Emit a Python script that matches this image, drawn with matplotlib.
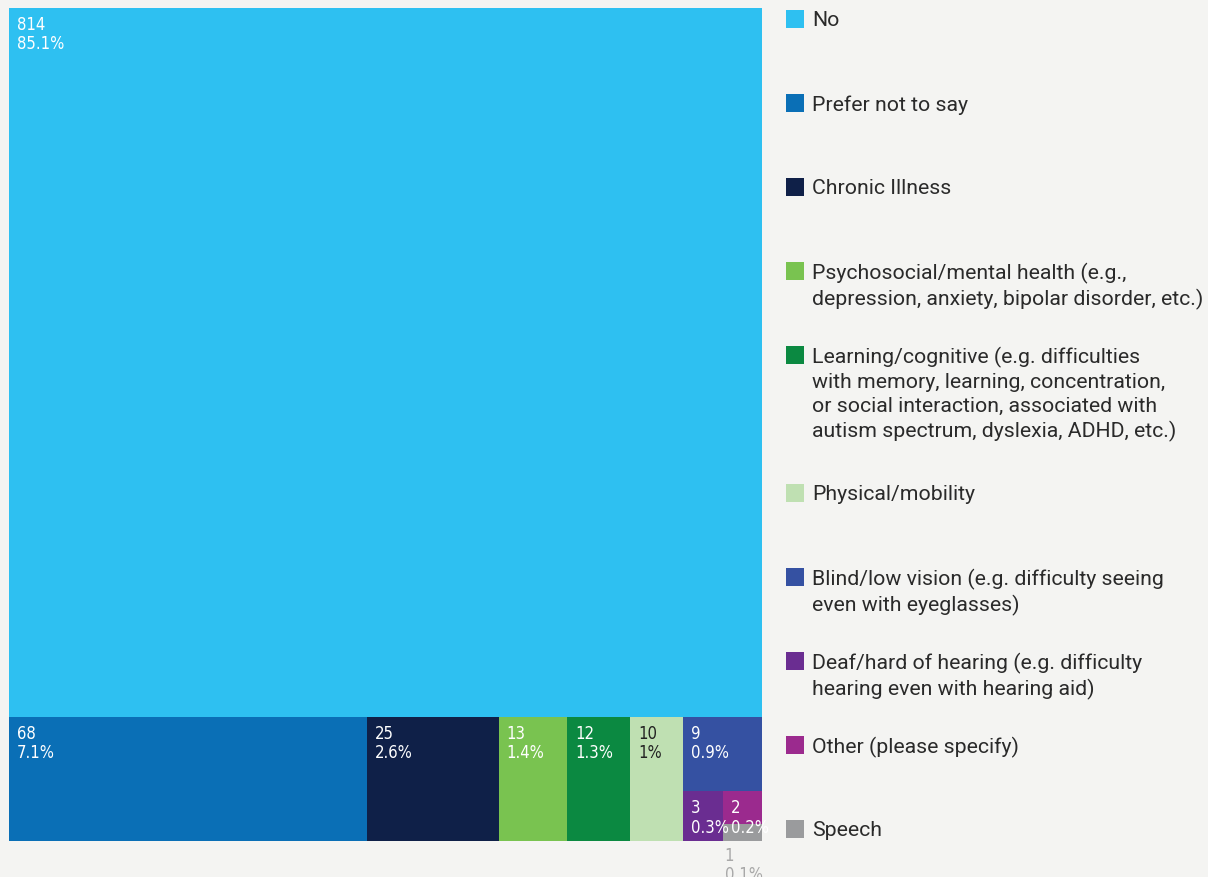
import matplotlib.pyplot as plt
from matplotlib.patches import Rectangle

# survey answers, counts per category
categories = ['No', 'Prefer not to say', 'Chronic Illness',
              'Psychosocial/mental health (e.g.,\ndepression, anxiety, bipolar disorder, etc.)',
              'Learning/cognitive (e.g. difficulties\nwith memory, learning, concentration,\nor social interaction, associated with\nautism spectrum, dyslexia, ADHD, etc.)',
              'Physical/mobility',
              'Blind/low vision (e.g. difficulty seeing\neven with eyeglasses)',
              'Deaf/hard of hearing (e.g. difficulty\nhearing even with hearing aid)',
              'Other (please specify)',
              'Speech']
counts = [814, 68, 25, 13, 12, 10, 9, 3, 2, 1]
pct_labels = ['85.1%', '7.1%', '2.6%', '1.4%', '1.3%', '1%', '0.9%', '0.3%', '0.2%', '0.1%']
colors = ['#2ec0f1', '#0a6fb6', '#0f2048', '#79c350', '#0b8941',
          '#bfe0b2', '#3551a2', '#6a2d91', '#9b2a8e', '#9a9b9d']
# nesting of the tiles, direction alternates per level
tree = [0, [1, 2, 3, 4, 5, [6, [7, [8, 9]]]]]

BG = '#f4f4f2'
fig = plt.figure(figsize=(12.08, 8.78), dpi=100, facecolor=BG)
ax = fig.add_axes([0, 0, 1, 1])
ax.set_xlim(0, 1208)
ax.set_ylim(878, 0)
ax.axis('off')


def total(node):
    if isinstance(node, list):
        return sum(total(n) for n in node)
    return counts[node]


def layout(node, x, y, w, h, vertical, out):
    if not isinstance(node, list):
        out[node] = (x, y, w, h)
        return
    s = total(node)
    for child in node:
        f = total(child) / s
        if vertical:
            layout(child, x, y, w, h * f, not vertical, out)
            y += h * f
        else:
            layout(child, x, y, w * f, h, not vertical, out)
            x += w * f


rects = {}
layout(tree, 9, 9, 753, 833, True, rects)

lab_font = dict(family='DejaVu Sans', stretch='condensed', fontsize=12)
for i, (x, y, w, h) in rects.items():
    ax.add_patch(Rectangle((x, y), w, h, facecolor=colors[i], edgecolor='none'))
    txt = '%d\n%s' % (counts[i], pct_labels[i])
    if h < 30:
        # tile too small, put the label underneath
        ax.text(x + 2, y + h + 5, txt, color='#a8a8a8', va='top', ha='left',
                linespacing=1.1, **lab_font)
    else:
        c = '#222222' if colors[i] == '#bfe0b2' else 'white'
        ax.text(x + 8, y + 7, txt, color=c, va='top', ha='left',
                linespacing=1.1, **lab_font)

# legend down the right side
ly = 20
for i, name in enumerate(categories):
    ax.add_patch(Rectangle((786, ly - 9), 18, 18, facecolor=colors[i], edgecolor='none'))
    ax.text(812, ly - 9, name, va='top', ha='left', color='#2a2a2a',
            family='Roboto', fontsize=15.3, linespacing=1.32)
    nlines = name.count('\n') + 1
    ly += 84 + 27 * max(0, nlines - 2)

fig.savefig('out.png', dpi=100, facecolor=BG)
